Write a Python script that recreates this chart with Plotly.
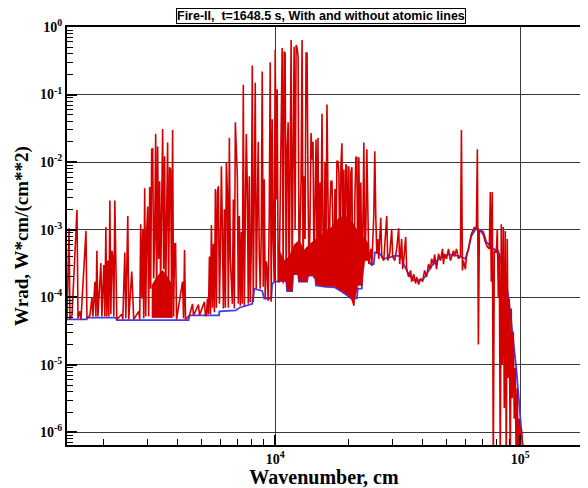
import plotly.graph_objects as go

# Continuum only (without atomic lines): (wavenumber, Wrad)
blue_points = [
    (1414, 4.7e-5), (1700, 4.7e-5), (1721, 5.0e-5), (2237, 5.0e-5), (2258, 4.6e-5),
    (4429, 4.6e-5), (4471, 5.4e-5), (5900, 5.4e-5), (5920, 6.2e-5), (6900, 6.4e-5),
    (7139, 7.0e-5), (8062, 8.0e-5), (8215, 1.34e-4), (8853, 1.24e-4), (9021, 9.6e-5),
    (9632, 9.6e-5), (9723, 1.6e-4), (10000, 1.7e-4), (11085, 1.76e-4), (11189, 1.24e-4),
    (11725, 1.24e-4), (11835, 2.2e-4), (12402, 2.2e-4), (12518, 1.7e-4), (13491, 1.7e-4),
    (13618, 2.1e-4), (14540, 2.1e-4), (14677, 1.5e-4), (16117, 1.43e-4), (17533, 1.4e-4),
    (18719, 1.21e-4), (19988, 1.02e-4), (21542, 9.6e-5), (21745, 1.34e-4), (22574, 1.34e-4),
    (22786, 3.7e-4), (23435, 4.1e-4), (24557, 3.1e-4), (25256, 3.1e-4), (25495, 4.6e-4),
    (26467, 4.6e-4), (27734, 3.7e-4), (30743, 4.1e-4), (32818, 4.1e-4), (33446, 3.1e-4),
    (35047, 2.2e-4), (36729, 1.8e-4), (39950, 1.8e-4), (41477, 2.2e-4), (43460, 2.9e-4),
    (46405, 3.7e-4), (50957, 4.3e-4), (55956, 4.1e-4), (59750, 3.7e-4), (61449, 5.2e-4),
    (63196, 8.1e-4), (66228, 1.06e-3), (70706, 9.3e-4), (72724, 6.6e-4), (77641, 5.2e-4),
    (81367, 4.9e-4), (85265, 2.6e-4), (87698, 1.7e-4), (90195, 8.0e-5), (91898, 4.4e-5),
    (94539, 2.0e-5), (96325, 9.0e-6), (98144, 4.0e-6), (100000, 1.8e-6), (100940, 9.0e-7),
    (102847, 5.0e-7),
]

# With atomic lines: (wavenumber, Wrad), region by region
red_ir_far = [
    (1414, 4.7e-5), (1441, 1.05e-3), (1454, 4.7e-5), (1482, 5.4e-5), (1553, 1.95e-3),
    (1568, 4.9e-5), (1597, 6.2e-5), (1612, 4.7e-5), (1690, 9.6e-4), (1705, 4.9e-5),
    (1754, 5.4e-5), (1787, 1.0e-4), (1804, 5.2e-5), (1838, 1.7e-4), (1855, 5.2e-5),
    (1872, 4.9e-4), (1890, 5.2e-5), (1944, 3.2e-4), (1962, 5.2e-5), (1999, 3.0e-4),
    (2018, 5.2e-5), (2037, 1.1e-3), (2056, 5.2e-5), (2075, 3.5e-4), (2095, 5.2e-5),
    (2115, 2.7e-3), (2135, 5.6e-5), (2155, 4.9e-4), (2175, 4.1e-4), (2195, 5.2e-5),
    (2216, 2.7e-3), (2237, 1.13e-4), (2258, 4.7e-5), (2366, 5.6e-5), (2389, 4.7e-5),
    (2434, 4.6e-4), (2457, 4.9e-5), (2503, 1.6e-3), (2526, 4.7e-5), (2598, 2.4e-4),
    (2623, 9.6e-5), (2647, 4.7e-5), (2774, 6.2e-5), (2800, 4.7e-5), (2826, 1.2e-3),
    (2853, 9.6e-5), (2880, 1.0e-3), (2907, 4.9e-5), (2934, 4.1e-3), (2962, 5.2e-5),
    (2990, 9.3e-4), (3018, 2.2e-3), (3046, 5.2e-5), (3075, 4.3e-3), (3104, 1.34e-4),
    (3133, 1.55e-2), (3163, 1.6e-2), (3192, 1.9e-4), (3222, 7.3e-4), (3253, 2.6e-2),
    (3283, 9.6e-5), (3314, 1.7e-2), (3345, 3.7e-4), (3377, 5.2e-3), (3408, 1.34e-4),
    (3440, 2.8e-3), (3473, 3.1e-2), (3505, 2.6e-4), (3538, 1.22e-2), (3571, 9.6e-5),
    (3605, 1.0e-3), (3639, 1.96e-2), (3673, 1.34e-4), (3708, 8.4e-3), (3743, 7.8e-3),
    (3778, 9.6e-5), (3814, 3.0e-2), (3849, 5.2e-5), (3886, 6.2e-4), (3922, 6.2e-4),
    (3959, 4.7e-5), (4188, 1.7e-4), (4227, 4.9e-5), (4267, 5.0e-4), (4307, 4.7e-5),
    (4471, 5.4e-5), (4598, 8.0e-5), (4641, 5.4e-5), (4863, 7.8e-5), (4909, 5.4e-5),
    (5144, 8.6e-5), (5193, 5.4e-5),
]
red_ir_near = [
    (5242, 5.4e-5), (5291, 9.6e-5), (5341, 5.6e-5), (5391, 4.0e-4), (5441, 5.6e-5),
    (5493, 1.17e-3), (5544, 7.0e-5), (5596, 6.2e-4), (5649, 6.0e-5), (5702, 4.0e-3),
    (5756, 7.0e-5), (5810, 3.6e-3), (5865, 4.4e-3), (5920, 8.0e-5), (5976, 5.2e-4),
    (6032, 8.7e-3), (6089, 9.3e-4), (6146, 6.8e-5), (6204, 2.0e-3), (6262, 7.0e-5),
    (6321, 1.0e-2), (6380, 4.0e-3), (6440, 7.0e-5), (6501, 2.3e-2), (6562, 3.7e-4),
    (6624, 1.9e-4), (6686, 8.0e-5), (6749, 2.8e-3), (6813, 6.8e-5), (6877, 3.9e-2),
    (6941, 1.7e-2), (7007, 6.0e-3), (7072, 8.0e-5), (7139, 1.6e-3), (7206, 7.5e-5),
    (7274, 9.3e-4), (7342, 8.0e-5), (7411, 0.14), (7481, 7.5e-5), (7551, 2.8e-3),
    (7622, 2.6e-2), (7694, 4.4e-3), (7766, 8.0e-5), (7839, 6.2e-3), (7913, 8.5e-5),
    (7987, 5.2e-4), (8062, 0.27), (8138, 8.5e-5), (8215, 2.0e-3), (8292, 0.15),
    (8370, 1.34e-4), (8449, 2.5e-3), (8528, 2.0e-2), (8608, 4.7e-4), (8689, 1.34e-4),
    (8771, 7.8e-4), (8853, 0.22), (8937, 1.43e-4), (9021, 5.6e-3), (9106, 9.6e-5),
    (9192, 3.4e-4), (9278, 2.6e-4), (9365, 8.9e-5), (9453, 1.4e-3), (9542, 0.30),
    (9632, 8.6e-5), (9723, 4.3e-2), (9814, 7.3e-4), (9907, 1.7e-4), (10000, 0.46),
    (10094, 2.8e-3), (10189, 0.12), (10285, 1.7e-4),
]
red_visible = [
    (10382, 1.7e-4), (10479, 2.8e-3), (10578, 8.9e-2), (10677, 0.49), (10778, 1.6e-4),
    (10879, 0.43), (10981, 0.41), (11085, 1.7e-4), (11189, 1.55e-2), (11294, 3.9e-2),
    (11400, 1.24e-4), (11507, 3.0e-2), (11616, 0.64), (11725, 2.2e-4), (11835, 1.1e-2),
    (11946, 0.51), (12058, 1.0e-3), (12172, 0.54), (12286, 0.49), (12402, 0.36),
    (12518, 2.1e-4), (12636, 2.0e-3), (12755, 5.6e-3), (12875, 0.64), (12996, 2.2e-4),
    (13118, 6.2e-3), (13241, 7.3e-4), (13366, 0.41), (13491, 0.41), (13618, 3.6e-3),
    (13746, 2.1e-4), (13875, 1.4e-3), (14006, 2.7e-2), (14137, 1.1e-2), (14270, 2.0e-2),
    (14404, 1.9e-4), (14540, 2.8e-3), (14677, 2.16e-2), (14815, 5.2e-4), (14954, 2.3e-2),
    (15094, 1.7e-4), (15236, 5.0e-3), (15379, 7.3e-4), (15524, 5.2e-2), (15670, 1.0e-3),
    (15817, 1.6e-4), (15967, 1.0e-2), (16117, 5.2e-4), (16268, 7.1e-2), (16421, 6.2e-4),
    (16575, 1.6e-4), (16731, 2.0e-3), (16888, 5.2e-3), (17047, 5.2e-3), (17207, 7.3e-4),
    (17369, 1.6e-4), (17533, 4.0e-3), (17697, 5.2e-4), (17864, 1.03e-2), (18032, 1.03e-2),
    (18201, 7.1e-3), (18372, 1.24e-4), (18545, 8.7e-3), (18719, 1.9e-2), (18895, 7.3e-4),
    (19073, 7.8e-3), (19254, 1.24e-4), (19435, 9.3e-3), (19618, 8.4e-3), (19802, 3.7e-4),
    (19988, 8.7e-3), (20176, 9.6e-5), (20366, 7.1e-3), (20557, 8.4e-3), (20750, 8.6e-5),
    (20945, 7.5e-5), (21143, 2.8e-3), (21342, 1.18e-2), (21542, 1.18e-2), (21745, 1.5e-4),
    (21949, 1.18e-2), (22155, 5.2e-4), (22364, 5.0e-3), (22574, 1.5e-4), (22786, 1.0e-3),
    (23000, 1.96e-2), (23217, 3.5e-4), (23435, 1.0e-3), (23655, 1.55e-2), (23878, 7.3e-4),
    (24102, 3.1e-4), (24557, 5.2e-4), (24788, 2.9e-4), (25256, 1.6e-3), (25495, 1.45e-2),
    (25735, 1.6e-3), (25977, 4.4e-4), (26221, 7.3e-4), (26467, 3.7e-4),
]
red_uv = [
    (26967, 1.5e-3), (27221, 4.0e-4), (27734, 3.5e-4), (28525, 1.6e-3), (28793, 3.5e-4),
    (29336, 4.4e-4), (29888, 1.0e-3), (30169, 4.0e-4), (30743, 3.5e-4), (31324, 5.2e-4),
    (31914, 1.05e-3), (32214, 3.1e-4), (32818, 7.3e-4), (33132, 2.6e-4), (33446, 3.5e-4),
    (34077, 7.8e-4), (34398, 2.6e-4), (35047, 2.0e-4), (35707, 2.5e-4), (36043, 1.7e-4),
    (36729, 2.2e-4), (37421, 1.6e-4), (37773, 2.0e-4), (38485, 1.55e-4), (39210, 1.9e-4),
    (39950, 1.7e-4), (40709, 2.5e-4), (41477, 2.0e-4), (42259, 3.1e-4), (43055, 2.6e-4),
    (43460, 3.7e-4), (44280, 3.1e-4), (44703, 4.3e-4), (45546, 2.6e-4), (46405, 4.4e-4),
    (47280, 3.5e-4), (48171, 5.2e-4), (48624, 3.1e-4), (49089, 4.4e-4), (50014, 3.7e-4),
    (50957, 5.2e-4), (51918, 3.5e-4), (53405, 4.9e-4), (53905, 4.0e-4), (54921, 5.2e-4),
    (55956, 3.7e-4), (57011, 4.1e-4), (57547, 3.0e-2), (58087, 2.5e-4), (58633, 3.5e-4),
    (59750, 2.6e-4), (60311, 4.0e-4),
]
red_vuv = [
    (61449, 5.2e-4), (62607, 7.3e-4), (63196, 8.7e-4), (64393, 1.0e-3), (65002, 1.1e-3),
    (66228, 1.0e-3), (66851, 1.55e-2), (67479, 2.0e-5), (68113, 9.6e-4), (69396, 9.3e-4),
    (70706, 8.4e-4), (72050, 6.6e-4), (73408, 5.6e-4), (74792, 5.2e-4), (75492, 3.6e-3),
    (76202, 1.7e-4), (76918, 3.6e-3), (77641, 3e-7), (78382, 4.9e-4), (79859, 4.7e-4),
    (80610, 1.0e-3), (81367, 1.0e-4), (82132, 4.4e-4), (82904, 3e-7), (83684, 1.2e-3),
    (84470, 1.0e-5), (85265, 1.1e-3), (86073, 2.3e-6), (86882, 9.6e-4), (87698, 3e-7),
    (88523, 7.3e-4), (89355, 6.4e-6), (90195, 9.6e-5), (91043, 3e-7), (91898, 6.8e-5),
    (92762, 3.2e-6), (93634, 3.1e-5), (94539, 1.6e-6), (95428, 9.0e-6), (96325, 3e-7),
    (97230, 4.5e-6), (98144, 3e-7), (99067, 1.6e-6), (100000, 8.3e-7), (100940, 1.15e-6),
    (102847, 5e-7), (104786, 2.2e-7),
]

# Where the atomic lines are so dense that they merge into a solid band
dense_band_visible = [
    (10382, 5e-4), (10879, 3.5e-4), (11400, 4e-4), (11946, 6e-4), (12518, 7e-4),
    (13118, 5e-4), (13746, 6e-4), (14404, 7e-4), (15094, 8e-4), (15817, 9e-4),
    (16575, 1.0e-3), (17369, 1.2e-3), (18201, 1.5e-3), (19073, 1.6e-3), (19988, 1.5e-3),
    (20945, 1.2e-3), (21542, 1.0e-3), (21949, 5e-4), (23000, 8e-4), (24102, 6e-4),
    (24102, 3.5e-4), (23217, 3.5e-4), (22574, 1.5e-4), (21745, 1.5e-4), (20945, 8e-5),
    (19988, 1.05e-4), (18719, 1.25e-4), (17533, 1.45e-4), (16117, 1.45e-4), (14677, 1.55e-4),
    (14540, 2.1e-4), (13618, 2.1e-4), (13491, 1.7e-4), (12518, 1.7e-4), (12402, 2.2e-4),
    (11835, 2.2e-4), (11725, 1.24e-4), (11189, 1.24e-4), (11085, 1.75e-4), (10382, 1.75e-4),
]
dense_band_ir = [
    (3133, 1.5e-4), (3283, 2.0e-4), (3473, 2.5e-4), (3639, 2.0e-4), (3814, 1.5e-4),
    (3814, 5.0e-5), (3133, 5.0e-5),
]

x_major = [1e4, 1e5]
x_major_text = ["10<sup>4</sup>", "10<sup>5</sup>"]
y_major = [1e-6, 1e-5, 1e-4, 1e-3, 1e-2, 1e-1, 1e0]
y_major_text = ["10<sup>-6</sup>", "10<sup>-5</sup>", "10<sup>-4</sup>", "10<sup>-3</sup>",
                "10<sup>-2</sup>", "10<sup>-1</sup>", "10<sup>0</sup>"]
title_text = "Fire-II,\u00a0 t=1648.5 s, With and without atomic lines"
x_title = "Wavenumber, cm"
y_title = "Wrad, W*cm/(cm**2)"

RED = "#d40000"
red_points = red_ir_far + red_ir_near + red_visible + red_uv + red_vuv

x_minor = [m * 10 ** e for e in (3, 4, 5) for m in range(2, 10)]
y_minor = [m * 10 ** e for e in range(-7, 0) for m in range(2, 10)]

fig = go.Figure()
fig.add_trace(go.Scatter(
    x=[p[0] for p in blue_points], y=[p[1] for p in blue_points],
    mode="lines", line=dict(color="#3c3cff", width=1.8), hoverinfo="skip"))
for band in (dense_band_ir, dense_band_visible):
    fig.add_trace(go.Scatter(
        x=[p[0] for p in band], y=[p[1] for p in band], mode="lines",
        fill="toself", fillcolor=RED, line=dict(color=RED, width=0.5), hoverinfo="skip"))
fig.add_trace(go.Scatter(
    x=[p[0] for p in red_points], y=[p[1] for p in red_points],
    mode="lines", line=dict(color=RED, width=1.6), hoverinfo="skip"))

tick_font = dict(family="Liberation Serif", size=14, color="black", weight="bold")
title_font = dict(family="Liberation Serif", size=20, color="black", weight="bold")

axis_common = dict(
    type="log", showline=True, linewidth=2, linecolor="black", mirror=True,
    ticks="inside", ticklen=10, tickwidth=2, tickcolor="black",
    showgrid=True, gridcolor="#3a3a3a", gridwidth=1.2, zeroline=False,
    tickfont=tick_font,
)

# page body has an 8px margin, so the figure is sized to fill the rest of the window
fig.update_layout(
    width=580, height=480,
    margin=dict(l=59, r=5, t=19, b=41),
    paper_bgcolor="white", plot_bgcolor="white",
    showlegend=False,
    xaxis=dict(
        range=[3.1504, 5.248], tickmode="array", tickvals=x_major, ticktext=x_major_text,
        minor=dict(tickmode="array", tickvals=x_minor, ticks="inside", ticklen=6,
                   tickwidth=1, tickcolor="black", showgrid=False),
        title=dict(text=x_title, font=title_font, standoff=2),
        **axis_common),
    yaxis=dict(
        range=[-6.186, 0], tickmode="array", tickvals=y_major, ticktext=y_major_text,
        minor=dict(tickmode="array", tickvals=y_minor, ticks="inside", ticklen=6,
                   tickwidth=1, tickcolor="black", showgrid=False),
        title=dict(text=y_title, font=dict(family="Liberation Serif", size=19,
                                            color="black", weight="bold"), standoff=6),
        **axis_common),
    annotations=[dict(
        text=title_text, xref="paper", yref="paper", x=0.494, y=1.026,
        xanchor="center", yanchor="middle", showarrow=False,
        font=dict(family="Liberation Sans", size=12.5, color="black", weight="bold"),
        bordercolor="black", borderwidth=1, borderpad=0, bgcolor="white")],
)

fig.write_html("out.html")
